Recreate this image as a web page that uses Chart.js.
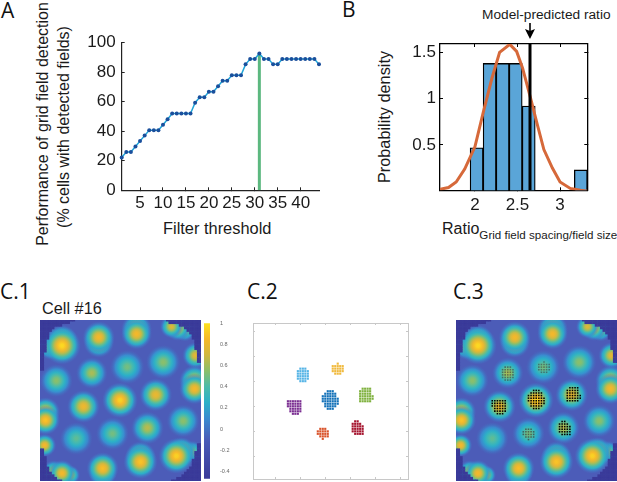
<!DOCTYPE html>
<html>
<head>
<meta charset="utf-8">
<script src="https://cdn.jsdelivr.net/npm/chart.js@4"></script>
<style>
html, body { margin: 0; padding: 0; background: #fff; }
body { position: relative; width: 617px; height: 482px; overflow: hidden; font-family: "Liberation Sans", sans-serif; color: #1a1a1a; }
canvas { position: absolute; }
.t { position: absolute; white-space: nowrap; line-height: 1; }
.panel { font-family: "Open Sans", sans-serif; font-size: 21px; color: #111; }
.rot { transform: translate(-50%, -50%) rotate(-90deg); font-size: 16px; }
.heat { background: #4c5cb8; }
</style>
</head>
<body>
<div class="t panel" style="left:1px;top:0px">A</div>
<div class="t panel" style="left:342px;top:-1px">B</div>
<div class="t panel" style="left:0;top:281px">C.1</div>
<div class="t panel" style="left:247px;top:281px">C.2</div>
<div class="t panel" style="left:453px;top:281px">C.3</div>

<div class="t rot" style="left:43px;top:124px">Performance of grid field detection</div>
<div class="t rot" style="left:64px;top:127px">(% cells with detected fields)</div>
<div class="t" style="left:163px;top:220px;font-size:16.4px">Filter threshold</div>

<div class="t" style="left:482px;top:8px;font-size:13.7px">Model-predicted ratio</div>
<div class="t rot" style="left:384px;top:117px;font-size:16.3px">Probability density</div>
<div class="t" style="left:442px;top:221px;font-size:16px">Ratio<span style="font-size:11.6px;position:relative;top:5px">Grid field spacing/field size</span></div>

<div class="t" style="left:42px;top:300px;font-size:16.3px">Cell #16</div>

<canvas id="chart-a" width="340" height="250" style="left:0;top:0"></canvas>
<canvas id="chart-b" width="277" height="216" style="left:340px;top:0"></canvas>
<canvas id="chart-c1" class="heat" width="161" height="161" style="left:40px;top:320px"></canvas>
<canvas id="chart-bar" width="32" height="166" style="left:203px;top:318px"></canvas>
<canvas id="chart-c2" width="163" height="164" style="left:249px;top:319px"></canvas>
<canvas id="chart-c3" class="heat" width="161" height="161" style="left:456px;top:320px"></canvas>

<script>
// panel A
const thresholds = [1,2,3,4,5,6,7,8,9,10,11,12,13,14,15,16,17,18,19,20,21,22,23,24,25,26,27,28,29,30,31,32,33,34,35,36,37,38,39,40,41,42,43,44];
const performance = [22.2,25.9,25.9,29.6,33.3,37,40.7,40.7,40.7,44.4,48.1,51.9,51.9,51.9,51.9,51.9,59.3,63,63,66.7,66.7,70.4,74.1,74.1,77.8,77.8,77.8,85.2,88.9,88.9,92.6,88.9,88.9,85.2,85.2,88.9,88.9,88.9,88.9,88.9,88.9,88.9,88.9,85.2];
const bestThreshold = 31;
const bestPerformance = 92.6;
const aTicksX = [5,10,15,20,25,30,35,40];
const aTicksY = [0,10,20,30,40,50,60,70,80,90,100];
const aLabelsY = [0,20,40,60,80,100];

// panel B
const binCenters = [2.02,2.173,2.326,2.479,2.632,2.785,2.938,3.091,3.244];
const binDensity = [0.47,1.38,1.38,1.38,0.92,0,0,0,0.23];
const fitX = [1.59,1.69,1.78,1.88,2.0,2.1,2.2,2.29,2.41,2.49,2.56,2.65,2.73,2.81,2.91,3.0,3.12,3.24,3.32];
const fitY = [0.02,0.04,0.10,0.24,0.48,0.86,1.22,1.50,1.586,1.51,1.33,1.02,0.73,0.45,0.25,0.10,0.03,0.01,0];
const modelRatio = 2.647;
const bTicksX = [2,2.5,3];
const bTicksY = [0.5,1,1.5];

// panel C: firing fields, in map cells
const fieldX = [9.5,9.5,5,23.7,23.7,38.3,38.3,54.3,51.8,56.9,61.1,48.6,34.7,21,7.3,60.7,60.7,45.7,31.9,17.8,3.1,3.1,56.3,42.5,29,15,2.8,59.8,53.7,55.6,39.8,39.8,25.2,25.2,6.3,12.7,9.5];
const fieldY = [53.3,55.2,52.7,56.5,54.6,59.7,57.8,60,60.6,59.1,49.5,46.9,45,42.7,39.8,39.8,36.6,34.3,32.2,29.8,27.7,24.5,24.2,21.5,19.3,17.4,14.8,12.3,10.7,12.3,8.4,10.4,5.9,4,4.6,3.3,4];
const fieldSize = [5.4,4.5,3.6,4.6,4.4,4.4,4.4,3.6,3.3,3.1,3.8,4.9,4.9,4.5,4.7,4.4,4.4,4.7,5.1,4.7,4.2,4.2,4.7,4.7,4.7,4.7,3.3,3.2,5.1,4.2,4.9,4.4,4.6,4,3.3,2.8,3.8];
const fieldPeak = [0.98,0.95,0.6,0.85,0.8,0.8,0.85,0.72,0.75,0.6,0.78,0.55,0.5,0.62,0.55,0.8,0.85,0.8,0.95,0.82,0.85,0.9,0.55,0.65,0.5,0.45,0.85,0.55,0.95,0.9,0.9,0.85,0.88,0.85,0.7,0.7,0.85];

// masked corners: cells from the edge, row by row going away from the corner
const maskTopLeft = [14,12,9,6,5,4,4,4,3,3,3,3,3,2,2,2,2,2,2,2];
const maskTopRight = [14,13,9,7,6,5,4,4,3,3,3,3,2,2,2,2,2];
const maskBottomLeft = [9,7,6,5,4,4,3,3,3,3,2,2,2];
const maskBottomRight = [12,10,8,7,6,5,4,4,4,3,3,3,2,2,2];

const colorbarMin = -0.47;
const colorbarMax = 1;
const colorbarTicks = [-0.4,-0.2,0,0.2,0.4,0.6,0.8,1];
const rampValues = [-0.47,-0.1,0.1,0.25,0.4,0.55,0.7,0.85,1];
const rampColors = ['#3a3a99','#4a5cb8','#3a8bd0','#2bb0c8','#4bbbaa','#8bbf6a','#d0b840','#f5b82a','#fde020'];

// clusters: [row, first column, last column]
const clusterLightBlue = [[45,20,22],[44,19,23],[43,19,23],[42,19,23],[41,19,23],[40,20,22]];
const clusterYellow = [[47,35,35],[46,33,37],[45,33,37],[44,33,37],[43,34,36]];
const clusterGreen = [[37,45,48],[36,44,48],[35,44,48],[34,44,49],[33,44,49],[32,44,48]];
const clusterBlue = [[36,31,33],[35,30,34],[34,29,34],[33,29,35],[32,29,35],[31,30,35],[30,30,34],[29,31,33]];
const clusterPurple = [[32,15,20],[31,15,20],[30,15,20],[29,16,20],[28,16,20],[27,17,19]];
const clusterRed = [[24,42,43],[23,41,44],[22,41,45],[21,41,45],[20,41,45],[19,42,45]];
const clusterOrange = [[21,28,30],[20,27,31],[19,27,31],[18,28,31],[17,29,29]];
const clusterList = [clusterLightBlue,clusterYellow,clusterGreen,clusterBlue,clusterPurple,clusterRed,clusterOrange];
const clusterColors = ['#55b4e6','#f0b93c','#7fb13e','#1170b8','#7a2d91','#a5142e','#d9532a'];
const overlayColors = ['rgba(60,60,60,0.6)','rgba(60,60,60,0.55)','#000','#000','#000','#000','rgba(60,40,40,0.6)'];
const mapTicks = [10,20,30,40,50,60];
const mapMin = 1;
const mapMax = 63.2;

Chart.defaults.font.family = '"Liberation Sans", sans-serif';
Chart.defaults.animation = false;
Chart.defaults.events = [];
Chart.defaults.plugins.legend.display = false;
Chart.defaults.plugins.tooltip.enabled = false;

function setTicks(list) {
    return scale => { scale.ticks = list.map(v => ({ value: v })); };
}
function setWidth(w) {
    return scale => { scale.width = w; };
}
function setHeight(h) {
    return scale => { scale.height = h; };
}

// panel A
new Chart(document.querySelector('#chart-a').getContext('2d'), {
    type: 'line',
    data: {
        datasets: [
            {
                data: thresholds.map((t, i) => ({ x: t, y: performance[i] })),
                borderColor: '#1fa5d8',
                borderWidth: 1.5,
                tension: 0,
                pointRadius: 2,
                pointBackgroundColor: '#1a4f9c',
                pointBorderWidth: 0,
                clip: false
            },
            {
                data: [{ x: bestThreshold, y: 0 }, { x: bestThreshold, y: bestPerformance }],
                borderColor: '#5cb87f',
                borderWidth: 3,
                pointRadius: 0
            }
        ]
    },
    options: {
        responsive: false,
        layout: { padding: { top: 42.5, right: 21, bottom: 0, left: 0 } },
        scales: {
            x: {
                type: 'linear',
                min: 1,
                max: 44,
                afterBuildTicks: setTicks(aTicksX),
                afterFit: setHeight(59.7),
                grid: { drawOnChartArea: false, tickLength: -3, color: '#222' },
                border: { color: '#222', width: 1.2 },
                ticks: { color: '#1a1a1a', font: { size: 17 }, padding: 6, maxRotation: 0 }
            },
            y: {
                min: 0,
                max: 100,
                afterBuildTicks: setTicks(aTicksY),
                afterFit: setWidth(121.7),
                grid: { drawOnChartArea: false, tickLength: -3, color: '#222' },
                border: { color: '#222', width: 1.2 },
                ticks: {
                    color: '#1a1a1a',
                    font: { size: 17 },
                    padding: 9,
                    callback: v => aLabelsY.includes(v) ? String(v) : ''
                }
            }
        }
    }
});

// arrow from the label to the model ratio line
const arrowPlugin = {
    id: 'arrow',
    afterDraw(chart) {
        const ctx = chart.ctx;
        const x = chart.scales.x.getPixelForValue(modelRatio);
        ctx.save();
        ctx.strokeStyle = '#000';
        ctx.fillStyle = '#000';
        ctx.lineWidth = 1.6;
        ctx.beginPath();
        ctx.moveTo(x, 23);
        ctx.lineTo(x, 34);
        ctx.stroke();
        ctx.beginPath();
        ctx.moveTo(x - 5, 29);
        ctx.lineTo(x, 31);
        ctx.lineTo(x + 5, 29);
        ctx.lineTo(x, 39);
        ctx.closePath();
        ctx.fill();
        ctx.restore();
    }
};

// panel B
new Chart(document.querySelector('#chart-b').getContext('2d'), {
    data: {
        datasets: [
            {
                type: 'line',
                order: 1,
                data: [{ x: modelRatio, y: 0 }, { x: modelRatio, y: 1.59 }],
                borderColor: '#000',
                borderWidth: 3,
                pointRadius: 0
            },
            {
                type: 'line',
                order: 2,
                data: fitX.map((x, i) => ({ x: x, y: fitY[i] })),
                borderColor: '#d6693a',
                borderWidth: 3,
                tension: 0,
                pointRadius: 0
            },
            {
                type: 'bar',
                order: 3,
                data: binCenters.map((x, i) => ({ x: x, y: binDensity[i] })),
                backgroundColor: '#5aa5d8',
                borderColor: '#000',
                borderWidth: 1.3,
                barPercentage: 1,
                categoryPercentage: 1
            }
        ]
    },
    plugins: [arrowPlugin],
    options: {
        responsive: false,
        layout: { padding: { top: 44, right: 29.7, bottom: 0, left: 0 } },
        scales: {
            x: {
                type: 'linear',
                offset: false,
                min: 1.59,
                max: 3.32,
                afterBuildTicks: setTicks(bTicksX),
                afterFit: setHeight(25.7),
                grid: { drawOnChartArea: false, tickLength: -3, color: '#000', offset: false },
                border: { color: '#000', width: 1.3 },
                ticks: { color: '#1a1a1a', font: { size: 17 }, padding: 8, maxRotation: 0, callback: v => String(v) }
            },
            y: {
                min: 0.01,
                max: 1.59,
                afterBuildTicks: setTicks(bTicksY),
                afterFit: setWidth(100),
                grid: { drawOnChartArea: false, tickLength: -3, color: '#000' },
                border: { color: '#000', width: 1.3 },
                ticks: { color: '#1a1a1a', font: { size: 17 }, padding: 7, callback: v => String(v) }
            },
            x2: {
                type: 'linear',
                position: 'top',
                min: 1.59,
                max: 3.32,
                afterBuildTicks: setTicks(bTicksX),
                afterFit: setHeight(0),
                grid: { drawOnChartArea: false, tickLength: -3, color: '#000' },
                border: { color: '#000', width: 1.3 },
                ticks: { display: false }
            },
            y2: {
                type: 'linear',
                position: 'right',
                min: 0.01,
                max: 1.59,
                afterBuildTicks: setTicks(bTicksY),
                afterFit: setWidth(0),
                grid: { drawOnChartArea: false, tickLength: -3, color: '#000' },
                border: { color: '#000', width: 1.3 },
                ticks: { display: false }
            }
        }
    }
});

function rampColor(value, alpha) {
    let i = 0;
    while (i < rampValues.length - 2 && value > rampValues[i + 1]) i++;
    const f = Math.min(1, Math.max(0, (value - rampValues[i]) / (rampValues[i + 1] - rampValues[i])));
    const a = parseInt(rampColors[i].slice(1), 16);
    const b = parseInt(rampColors[i + 1].slice(1), 16);
    const mix = s => Math.round(((a >> s) & 255) * (1 - f) + ((b >> s) & 255) * f);
    return 'rgba(' + mix(16) + ',' + mix(8) + ',' + mix(0) + ',' + alpha + ')';
}

// colour of a field falls from its peak down to the map background
function fieldGradient(context) {
    const raw = context.raw;
    if (!raw) return 'transparent';
    const chart = context.chart;
    const x = chart.scales.x.getPixelForValue(raw.x);
    const y = chart.scales.y.getPixelForValue(raw.y);
    if (!isFinite(x) || !isFinite(y) || !isFinite(raw.r)) return 'transparent';
    const g = chart.ctx.createRadialGradient(x, y, 0, x, y, raw.r);
    for (let s = 0; s <= 10; s++) {
        const d = s / 10;
        const v = -0.1 + (raw.peak + 0.1) * Math.exp(-d * d * 2.2);
        const alpha = d < 0.7 ? 1 : (1 - d) / 0.3;
        g.addColorStop(d, rampColor(v, alpha));
    }
    return g;
}

function maskCells() {
    const cells = [];
    maskTopLeft.forEach((n, i) => { for (let c = 0; c < n; c++) cells.push({ x: mapMin + c, y: mapMax - i }); });
    maskTopRight.forEach((n, i) => { for (let c = 0; c < n; c++) cells.push({ x: mapMax - c, y: mapMax - i }); });
    maskBottomLeft.forEach((n, i) => { for (let c = 0; c < n; c++) cells.push({ x: mapMin + c, y: mapMin + i }); });
    maskBottomRight.forEach((n, i) => { for (let c = 0; c < n; c++) cells.push({ x: mapMax - c, y: mapMin + i }); });
    return cells;
}

function clusterCells(rows) {
    const cells = [];
    rows.forEach(row => {
        for (let c = row[1]; c <= row[2]; c++) cells.push({ x: c, y: row[0] });
    });
    return cells;
}

function heatMap(selector, overlay) {
    const fields = fieldX.map((x, i) => ({ x: x, y: fieldY[i], r: fieldSize[i] * 3.5, peak: fieldPeak[i] }));
    fields.sort((a, b) => a.peak - b.peak);
    const datasets = [];
    if (overlay) {
        clusterList.forEach((rows, i) => {
            datasets.push({
                type: 'scatter',
                data: clusterCells(rows),
                pointStyle: 'rect',
                pointRadius: 1.1,
                pointBorderWidth: 0,
                pointBackgroundColor: overlayColors[i]
            });
        });
    }
    datasets.push({
        type: 'scatter',
        data: maskCells(),
        pointStyle: 'rect',
        pointRadius: 2.1,
        pointBorderWidth: 0,
        pointBackgroundColor: '#3a3a99',
        clip: 0
    });
    datasets.push({
        type: 'bubble',
        data: fields,
        backgroundColor: fieldGradient,
        borderWidth: 0,
        clip: 0
    });
    new Chart(document.querySelector(selector).getContext('2d'), {
        data: { datasets: datasets },
        options: {
            responsive: false,
            layout: { autoPadding: false },
            scales: {
                x: { type: 'linear', min: mapMin, max: mapMax, display: false },
                y: { type: 'linear', min: mapMin, max: mapMax, display: false }
            }
        }
    });
}

heatMap('#chart-c1', false);
heatMap('#chart-c3', true);

// colour bar
new Chart(document.querySelector('#chart-bar').getContext('2d'), {
    type: 'bar',
    data: {
        labels: [''],
        datasets: [{
            data: [[colorbarMin, colorbarMax]],
            barPercentage: 1,
            categoryPercentage: 1,
            backgroundColor: context => {
                const area = context.chart.chartArea;
                if (!area) return '#4c5cb8';
                const g = context.chart.ctx.createLinearGradient(0, area.bottom, 0, area.top);
                rampValues.forEach((v, i) => {
                    g.addColorStop((v - colorbarMin) / (colorbarMax - colorbarMin), rampColors[i]);
                });
                return g;
            }
        }]
    },
    options: {
        responsive: false,
        layout: { padding: { top: 2, bottom: 2, left: 1 } },
        scales: {
            x: { display: false },
            y: {
                position: 'right',
                min: colorbarMin,
                max: colorbarMax,
                afterBuildTicks: setTicks(colorbarTicks),
                afterFit: setWidth(25),
                grid: { display: false },
                border: { display: false },
                ticks: {
                    color: '#666',
                    font: { size: 5.5 },
                    padding: 2,
                    callback: v => String(v)
                }
            }
        }
    }
});

// panel C.2
const c2Axis = { color: '#c8c8c8', width: 1 };
const c2Grid = { drawOnChartArea: false, tickLength: -2, color: '#c8c8c8' };
new Chart(document.querySelector('#chart-c2').getContext('2d'), {
    type: 'scatter',
    data: {
        datasets: clusterList.map((rows, i) => ({
            data: clusterCells(rows),
            pointStyle: 'rect',
            pointRadius: 1.5,
            pointBorderWidth: 0,
            pointBackgroundColor: clusterColors[i]
        }))
    },
    options: {
        responsive: false,
        layout: { padding: 1 },
        scales: {
            x: { type: 'linear', min: mapMin, max: mapMax, afterBuildTicks: setTicks(mapTicks), afterFit: setHeight(0), grid: c2Grid, border: c2Axis, ticks: { display: false } },
            y: { type: 'linear', min: mapMin, max: mapMax, afterBuildTicks: setTicks(mapTicks), afterFit: setWidth(0), grid: c2Grid, border: c2Axis, ticks: { display: false } },
            x2: { type: 'linear', position: 'top', min: mapMin, max: mapMax, afterBuildTicks: setTicks(mapTicks), afterFit: setHeight(0), grid: c2Grid, border: c2Axis, ticks: { display: false } },
            y2: { type: 'linear', position: 'right', min: mapMin, max: mapMax, afterBuildTicks: setTicks(mapTicks), afterFit: setWidth(0), grid: c2Grid, border: c2Axis, ticks: { display: false } }
        }
    }
});
</script>
</body>
</html>
